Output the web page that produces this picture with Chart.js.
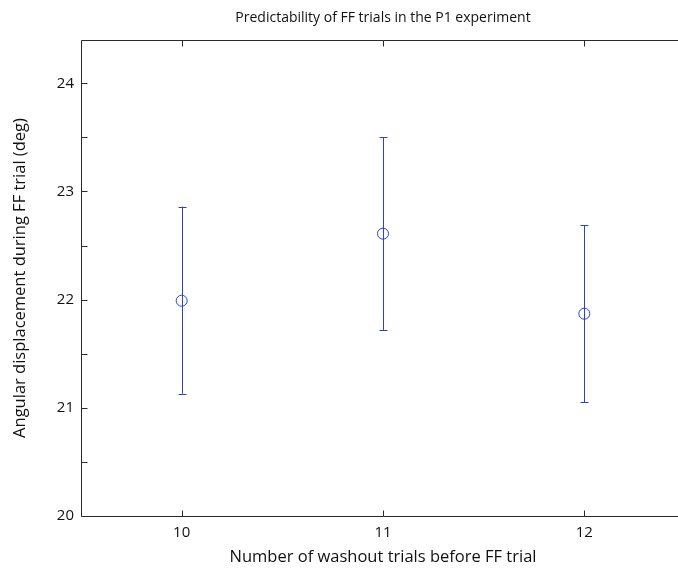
<!DOCTYPE html>
<html>
<head>
<meta charset="utf-8">
<script src="https://cdn.jsdelivr.net/npm/chart.js@4/dist/chart.umd.min.js"></script>
<style>
  html, body { margin: 0; padding: 0; background: #fff; overflow: hidden; }
</style>
</head>
<body>
<canvas id="myChart" width="700" height="569"></canvas>
<script>
// data
const washoutTrials = [10, 11, 12];
const meanDisplacement = [21.99, 22.61, 21.87];
const errLow = [21.13, 21.72, 21.05];
const errHigh = [22.86, 23.50, 22.69];
const xTicks = [10, 11, 12];
const yTicks = [20, 20.5, 21, 21.5, 22, 22.5, 23, 23.5, 24];

const blue = 'rgb(45, 65, 205)';
const axisColor = '#2a2a2a';
const font = "'Open Sans', 'DejaVu Sans', sans-serif";

// error bars, drawn through the scales
const errorBars = {
  id: 'errorBars',
  beforeDatasetsDraw(chart) {
    const { ctx, scales: { x, y } } = chart;
    ctx.save();
    ctx.strokeStyle = blue;
    ctx.lineWidth = 1;
    washoutTrials.forEach((t, i) => {
      const px = Math.round(x.getPixelForValue(t)) + 0.5;
      const lo = y.getPixelForValue(errLow[i]);
      const hi = y.getPixelForValue(errHigh[i]);
      ctx.beginPath();
      ctx.moveTo(px, lo);
      ctx.lineTo(px, hi);
      ctx.moveTo(px - 4, Math.round(lo) + 0.5);
      ctx.lineTo(px + 4, Math.round(lo) + 0.5);
      ctx.moveTo(px - 4, Math.round(hi) + 0.5);
      ctx.lineTo(px + 4, Math.round(hi) + 0.5);
      ctx.stroke();
    });
    ctx.restore();
  }
};

// matlab-style axes with inward ticks + title (right side is cut off in the reference)
const boxAxes = {
  id: 'boxAxes',
  afterDraw(chart) {
    const { ctx, chartArea: a, scales: { x, y } } = chart;
    ctx.save();
    ctx.strokeStyle = axisColor;
    ctx.lineWidth = 1;
    const L = Math.round(a.left) + 0.5, R = Math.round(a.right) + 0.5;
    const T = Math.round(a.top) + 0.5, B = Math.round(a.bottom) + 0.5;
    ctx.beginPath();
    ctx.moveTo(R, T); ctx.lineTo(L, T); ctx.lineTo(L, B); ctx.lineTo(R, B);
    xTicks.forEach(v => {
      const px = Math.round(x.getPixelForValue(v)) + 0.5;
      ctx.moveTo(px, B); ctx.lineTo(px, B - 6);
      ctx.moveTo(px, T); ctx.lineTo(px, T + 6);
    });
    yTicks.forEach(v => {
      const py = Math.round(y.getPixelForValue(v)) + 0.5;
      ctx.moveTo(L, py); ctx.lineTo(L + 6, py);
    });
    ctx.stroke();

    ctx.fillStyle = '#111';
    ctx.font = '14px ' + font;
    ctx.textAlign = 'center';
    ctx.textBaseline = 'middle';
    ctx.fillText('Predictability of FF trials in the P1 experiment', (a.left + a.right) / 2, 18);
    ctx.restore();
  }
};

new Chart(document.getElementById('myChart').getContext('2d'), {
  type: 'scatter',
  data: {
    datasets: [{
      label: 'mean',
      data: washoutTrials.map((t, i) => ({ x: t, y: meanDisplacement[i] })),
      pointStyle: 'circle',
      pointRadius: 5.5,
      pointBorderWidth: 1,
      pointBackgroundColor: 'rgba(0,0,0,0)',
      pointBorderColor: blue
    }]
  },
  options: {
    responsive: false,
    animation: false,
    layout: { padding: { top: 40, right: 15, left: 0, bottom: 0 } },
    plugins: {
      legend: { display: false },
      tooltip: { enabled: false }
    },
    scales: {
      x: {
        type: 'linear',
        min: 9.5,
        max: 12.5,
        afterBuildTicks: s => { s.ticks = xTicks.map(v => ({ value: v })); },
        afterFit: s => { s.height = 53; },
        grid: { display: false, drawTicks: false },
        border: { display: false },
        ticks: { color: '#111', font: { family: font, size: 15 }, padding: 8 },
        title: {
          display: true,
          text: 'Number of washout trials before FF trial',
          color: '#111',
          font: { family: font, size: 16.5 },
          padding: { top: 0, bottom: 2 }
        }
      },
      y: {
        type: 'linear',
        min: 20,
        max: 24.4,
        afterBuildTicks: s => { s.ticks = yTicks.map(v => ({ value: v })); },
        afterFit: s => { s.width = 81; },
        grid: { display: false, drawTicks: false },
        border: { display: false },
        ticks: {
          color: '#111',
          font: { family: font, size: 15 },
          padding: 7,
          callback: v => Number.isInteger(v) ? String(v) : ''
        },
        title: {
          display: true,
          text: 'Angular displacement during FF trial (deg)',
          color: '#111',
          font: { family: font, size: 16.5 },
          padding: { top: 10, bottom: 0 }
        }
      }
    }
  },
  plugins: [errorBars, boxAxes]
});
</script>
</body>
</html>
